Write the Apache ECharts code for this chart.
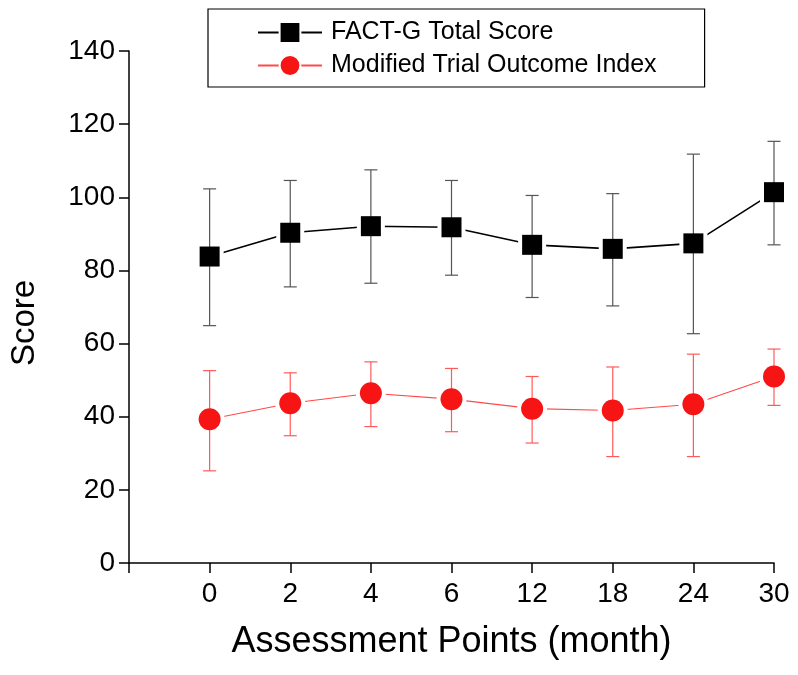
<!DOCTYPE html>
<html>
<head>
<meta charset="utf-8">
<script src="https://cdn.jsdelivr.net/npm/echarts@6/dist/echarts.min.js"></script>
<style>html,body{margin:0;padding:0;background:#fff}#c{width:798px;height:675px}</style>
</head>
<body>
<div id="c"></div>
<script>
// Tick labels of the x axis (leading blank slot before month 0)
const xTickLabels = ['', '0', '2', '4', '6', '12', '18', '24', '30'];
const months = ['0', '2', '4', '6', '12', '18', '24', '30'];
// FACT-G Total Score
const factMean  = [83.8, 90.3, 92.1, 91.8, 87.0, 85.9, 87.4, 101.4];
const factUpper = [102.3, 104.6, 107.5, 104.6, 100.5, 101.0, 111.8, 115.3];
const factLower = [64.9, 75.5, 76.5, 78.7, 72.6, 70.3, 62.7, 87.0];
// Modified Trial Outcome Index
const mtoiMean  = [39.3, 43.7, 46.4, 44.8, 42.2, 41.7, 43.4, 51.0];
const mtoiUpper = [52.6, 52.0, 55.0, 53.2, 51.0, 53.6, 57.1, 58.5];
const mtoiLower = [25.2, 34.8, 37.3, 35.9, 32.8, 29.1, 29.1, 43.1];
const yTicks = [0, 20, 40, 60, 80, 100, 120, 140];

const FONT = "'Liberation Sans', Arial, sans-serif";
const BLACK = '#000000';
const RED = '#f71414';

function pts(vals) { return months.map((m, i) => [m, vals[i]]); }
function errData(lo, hi) { return months.map((m, i) => [m, lo[i], hi[i]]); }
function errRender(color) {
  return function (params, api) {
    const lo = api.coord([api.value(0), api.value(1)]);
    const hi = api.coord([api.value(0), api.value(2)]);
    const w = 6.5;
    const style = { stroke: color, lineWidth: 1.2 };
    return {
      type: 'group',
      children: [
        { type: 'line', shape: { x1: lo[0], y1: lo[1], x2: hi[0], y2: hi[1] }, style },
        { type: 'line', shape: { x1: lo[0] - w, y1: lo[1], x2: lo[0] + w, y2: lo[1] }, style },
        { type: 'line', shape: { x1: hi[0] - w, y1: hi[1], x2: hi[0] + w, y2: hi[1] }, style }
      ]
    };
  };
}

const chart = echarts.init(document.getElementById('c'), null, { renderer: 'canvas' });
chart.setOption({
  animation: false,
  backgroundColor: '#fff',
  textStyle: { fontFamily: FONT },
  grid: { left: 127, right: 24, top: 51, bottom: 112, containLabel: false },
  legend: {
    orient: 'vertical',
    left: 208, top: 9,
    padding: [11, 48, 9, 49],
    itemWidth: 64, itemHeight: 26, itemGap: 8,
    borderColor: '#000', borderWidth: 1.2,
    data: ['FACT-G Total Score', 'Modified Trial Outcome Index'],
    textStyle: { fontFamily: FONT, fontSize: 25, color: '#000', padding: [0, 0, 0, 4] }
  },
  xAxis: {
    type: 'category',
    data: xTickLabels,
    boundaryGap: false,
    name: 'Assessment Points (month)',
    nameLocation: 'middle',
    nameGap: 61,
    nameTextStyle: { fontFamily: FONT, fontSize: 36, color: '#000' },
    axisLine: { show: true, lineStyle: { color: '#000', width: 1.5 } },
    axisTick: { show: true, interval: 0, length: 10, lineStyle: { color: '#000', width: 1.5 } },
    axisLabel: { interval: 0, margin: 17, fontFamily: FONT, fontSize: 28, color: '#000' },
    splitLine: { show: false }
  },
  yAxis: {
    type: 'value',
    min: yTicks[0], max: yTicks[yTicks.length - 1], interval: 20,
    name: 'Score',
    nameLocation: 'middle',
    nameGap: 88,
    nameTextStyle: { fontFamily: FONT, fontSize: 33, color: '#000', padding: [0, 32, 0, 0] },
    axisLine: { show: true, lineStyle: { color: '#000', width: 1.5 } },
    axisTick: { show: true, length: 10, lineStyle: { color: '#000', width: 1.5 } },
    axisLabel: { margin: 14, fontFamily: FONT, fontSize: 28, color: '#000' },
    splitLine: { show: false }
  },
  series: [
    {
      name: 'FACT-G Total Score', type: 'line', data: pts(factMean),
      symbol: 'rect', symbolSize: 20, z: 2,
      lineStyle: { color: BLACK, width: 1.6 },
      itemStyle: { color: BLACK, borderColor: '#fff', borderWidth: 8 }
    },
    {
      name: 'Modified Trial Outcome Index', type: 'line', data: pts(mtoiMean),
      symbol: 'circle', symbolSize: 22, z: 2,
      lineStyle: { color: '#ff4a4a', width: 1.1 },
      itemStyle: { color: RED, borderColor: '#fff', borderWidth: 8 }
    },
    { type: 'custom', name: 'factErr', renderItem: errRender('#555555'), data: errData(factLower, factUpper), z: 3, encode: { x: 0, y: [1, 2] } },
    { type: 'custom', name: 'mtoiErr', renderItem: errRender('#ff5a5a'), data: errData(mtoiLower, mtoiUpper), z: 3, encode: { x: 0, y: [1, 2] } },
    { type: 'scatter', name: 'factPts', data: pts(factMean), symbol: 'rect', symbolSize: 20, z: 4, itemStyle: { color: BLACK, opacity: 1 } },
    { type: 'scatter', name: 'mtoiPts', data: pts(mtoiMean), symbol: 'circle', symbolSize: 22, z: 4, itemStyle: { color: RED, opacity: 1 } }
  ]
});
</script>
</body>
</html>
